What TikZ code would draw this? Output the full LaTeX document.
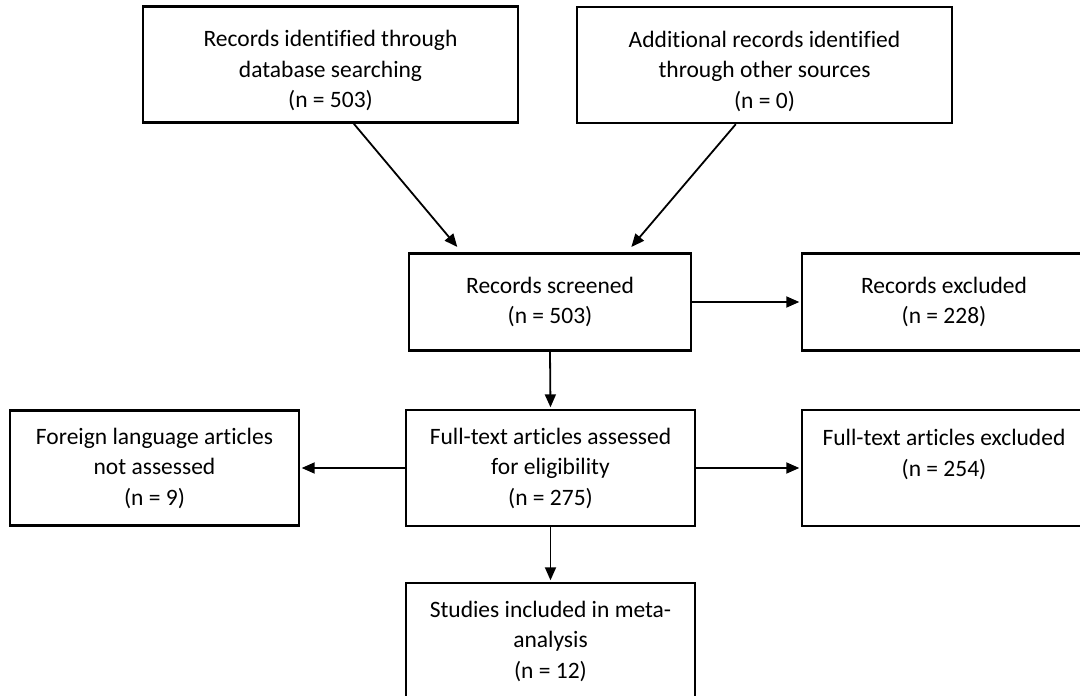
\documentclass[tikz,border=0pt]{standalone}
\usepackage{fontspec}
\setmainfont{Carlito}[Ligatures=NoCommon,RawFeature=-liga]
\usetikzlibrary{arrows.meta,calc}
\begin{document}
\begin{tikzpicture}[x=1pt,y=-1pt,
  box/.style={draw=black, line width=2.4pt, rectangle, align=center, inner sep=0pt,
    font=\fontsize{23.5}{30.5}\selectfont, text=black},
  arr/.style={line width=1.8pt, -{Triangle[length=13pt,width=11pt]}}]
\useasboundingbox (0,0) rectangle (1080,696);
\node[box, minimum width=375pt, minimum height=116pt] (b1) at (330.5,64.5)
  {\raisebox{0pt}[29pt][0pt]{}Records identified through\\database searching\\(n = 503)};
\node[box, minimum width=375pt, minimum height=116pt] (b2) at (764.5,65)
  {\raisebox{0pt}[29pt][0pt]{}Additional records identified\\through other sources\\(n = 0)};
\node[box, minimum width=282pt, minimum height=97pt] (b3) at (550,302)
  {Records screened\\(n = 503)};
\node[box, minimum width=284pt, minimum height=97pt] (b4) at (944,302)
  {Records excluded\\(n = 228)};
\node[box, minimum width=289pt, minimum height=115pt] (b5) at (154.5,468)
  {Foreign language articles\\not assessed\\(n = 9)};
\node[box, minimum width=289pt, minimum height=116pt] (b6) at (550.5,468)
  {Full-text articles assessed\\for eligibility\\(n = 275)};
\node[box, minimum width=284pt, minimum height=116pt] (b7) at (944,468)
  {Full-text articles excluded\\(n = 254)\\~};
\node[box, minimum width=289pt, minimum height=116pt] (b8) at (550.5,641)
  {Studies included in meta-\\analysis\\(n = 12)};
\draw[arr, shorten >=7pt] ($(b1.south west)+(212,0)$) -- ($(b3.north west)+(54,0)$);
\draw[arr, shorten >=7pt] ($(b2.south west)+(160,0)$) -- ($(b3.north west)+(219,0)$);
\draw[arr, shorten >=1.5pt] (b3.east) -- (b4.west);
\draw[arr, shorten >=1.5pt] (b3.south) -- (b6.north);
\draw[arr, shorten >=1.5pt] (b6.west) -- (b5.east);
\draw[arr, shorten >=1.5pt] (b6.east) -- (b7.west);
\draw[arr, shorten >=1.5pt] (b6.south) -- (b8.north);
\end{tikzpicture}
\end{document}
